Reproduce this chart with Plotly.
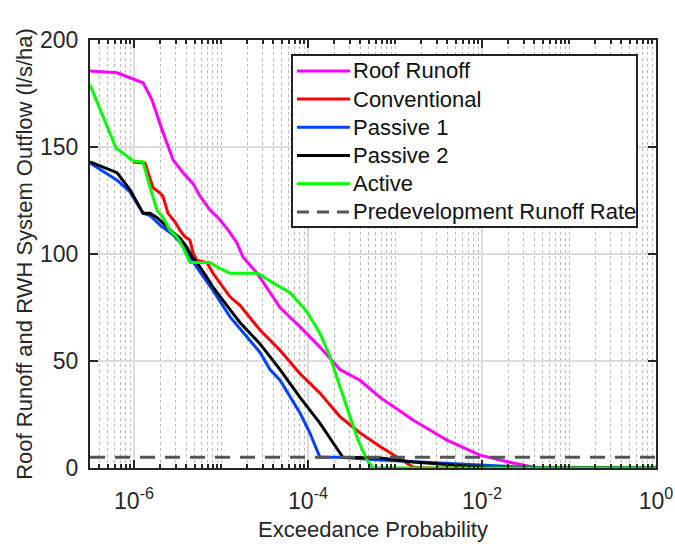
import plotly.graph_objects as go

# Exceedance probability (x) and flow (y, l/s/ha) for each series
roof_x = [3.12e-7, 6.38e-7, 1.27e-6, 1.61e-6, 2.10e-6, 2.81e-6, 3.66e-6, 4.76e-6, 5.74e-6, 7.48e-6,
          9.75e-6, 1.27e-5, 1.53e-5, 1.79e-5, 2.60e-5, 2.81e-5, 4.77e-5, 8.09e-5, 1.37e-4, 2.33e-4,
          3.96e-4, 6.73e-4, 1.61e-3, 3.96e-3, 9.49e-3, 2.27e-2, 3.85e-2, 5.30e-2, 1.0]
roof_y = [185.5, 184.7, 180, 172, 158, 144, 138, 133, 127, 120.5,
          116, 110, 105, 98.6, 91, 89, 75, 66, 56.5, 46,
          41, 33, 22.4, 13, 6, 2.3, 0.5, 0, 0]

conv_x = [9.74e-7, 1.34e-6, 1.65e-6, 1.99e-6, 2.15e-6, 2.46e-6, 2.96e-6, 3.38e-6, 3.86e-6, 4.40e-6,
          4.76e-6, 5.30e-6, 6.90e-6, 8.09e-6, 1.27e-5, 1.65e-5, 2.81e-5, 4.77e-5, 8.09e-5, 1.37e-4,
          2.33e-4, 3.96e-4, 6.73e-4, 8.77e-4, 1.61e-3, 1.94e-3, 1.0]
conv_y = [143, 142.5, 131, 128.5, 127, 119, 115, 111, 108, 106.5,
          100.5, 97, 96, 91, 80, 76, 64.5, 55, 44, 35,
          24, 16.4, 10, 7, 0.5, 0, 0]

pas1_x = [3.12e-7, 6.38e-7, 9.0e-7, 1.27e-6, 1.53e-6, 1.99e-6, 2.81e-6, 3.66e-6, 5.02e-6, 8.09e-6,
          1.27e-5, 1.65e-5, 2.81e-5, 3.66e-5, 4.77e-5, 8.09e-5, 1.05e-4, 1.37e-4, 2.33e-4, 6.73e-4,
          9.49e-3, 3.56e-2, 4.65e-2, 1.0]
pas1_y = [142.5, 134.5, 129, 119, 118, 113.5, 109, 104, 95, 83,
          70.6, 65, 54, 46, 41, 25.7, 16.4, 5, 5, 3.7,
          1.4, 0.5, 0, 0]

pas2_x = [3.12e-7, 6.38e-7, 9.0e-7, 1.27e-6, 1.53e-6, 1.84e-6, 2.15e-6, 2.81e-6, 3.38e-6, 4.07e-6,
          4.64e-6, 5.30e-6, 6.90e-6, 8.09e-6, 1.27e-5, 1.65e-5, 2.81e-5, 4.77e-5, 8.09e-5, 1.37e-4,
          2.33e-4, 2.52e-4, 6.73e-4, 1.61e-3, 9.49e-3, 1.24e-2, 1.0]
pas2_y = [143, 138, 130, 119, 119, 117, 114.5, 110, 107.5, 103,
          98.6, 96, 89, 84.5, 74, 68, 58, 46, 33, 21,
          7, 5, 4.7, 2.8, 0.5, 0, 0]

act_x = [3.12e-7, 6.21e-7, 9.74e-7, 1.27e-6, 1.53e-6, 1.84e-6, 2.15e-6, 2.60e-6, 3.12e-6, 3.66e-6,
         4.40e-6, 7.48e-6, 8.99e-6, 1.27e-5, 2.66e-5, 3.96e-5, 6.21e-5, 9.74e-5, 1.37e-4, 1.79e-4,
         2.33e-4, 3.04e-4, 3.76e-4, 4.77e-4, 5.58e-4, 1.0]
act_y = [179, 149.5, 143.5, 143, 131, 120.5, 117, 111, 108, 103,
         96, 96, 94, 91, 91, 86.5, 82, 73, 63, 52,
         38, 24, 13, 3.7, 0, 0]

predev_x = [3.12e-7, 1.0]
predev_y = [5, 5]

x_tickvals = [1e-6, 1e-4, 1e-2, 1]
x_ticktext = ["10<sup>-6</sup>", "10<sup>-4</sup>", "10<sup>-2</sup>", "10<sup>0</sup>"]
y_tickvals = [0, 50, 100, 150, 200]

series = [
    ("Roof Runoff", roof_x, roof_y, "#ff00ff", "solid"),
    ("Conventional", conv_x, conv_y, "#ff0000", "solid"),
    ("Passive 1", pas1_x, pas1_y, "#0044ff", "solid"),
    ("Passive 2", pas2_x, pas2_y, "#000000", "solid"),
    ("Active", act_x, act_y, "#00ff00", "solid"),
    ("Predevelopment Runoff Rate", predev_x, predev_y, "#555555", "15px,10px"),
]

fig = go.Figure()
for name, xs, ys, col, dash in series:
    fig.add_trace(go.Scatter(x=xs, y=ys, mode="lines", name=name, showlegend=False,
                             line=dict(color=col, width=3, dash=dash)))

axis_col = "#262626"
fam = "Liberation Sans, Arial, sans-serif"
tick_fnt = dict(family=fam, size=23, color=axis_col)
title_fnt = dict(family=fam, size=22, color=axis_col)

# --- legend box drawn in paper coordinates (MATLAB-style legend) ---
leg_x0, leg_x1, leg_y0, leg_y1 = 0.3569, 0.9664, 0.5631, 0.9650
leg_line_x0, leg_line_x1, leg_text_x = 0.3657, 0.4594, 0.4612
leg_row_top, leg_row_step = 0.9278, 0.0659

shapes = [dict(type="rect", xref="paper", yref="paper",
               x0=leg_x0, x1=leg_x1, y0=leg_y0, y1=leg_y1,
               line=dict(color="#222222", width=2), fillcolor="white", layer="above")]
annotations = []
for i, (name, xs, ys, col, dash) in enumerate(series):
    yy = leg_row_top - i * leg_row_step
    shapes.append(dict(type="line", xref="paper", yref="paper",
                       x0=leg_line_x0, x1=leg_line_x1, y0=yy, y1=yy,
                       line=dict(color=col, width=3,
                                 dash="12px,8px" if dash != "solid" else "solid"),
                       layer="above"))
    annotations.append(dict(text=name, xref="paper", yref="paper", x=leg_text_x, y=yy,
                            xanchor="left", yanchor="middle", showarrow=False,
                            font=dict(family=fam, size=22, color="#111111")))

fig.update_layout(
    width=675, height=549,
    margin=dict(l=90, r=19, t=40, b=81),
    paper_bgcolor="white", plot_bgcolor="white",
    font=title_fnt,
    showlegend=False,
    shapes=shapes,
    annotations=annotations,
)

fig.update_xaxes(
    type="log", range=[-6.506, 0], automargin=False,
    tickvals=x_tickvals, ticktext=x_ticktext,
    ticks="inside", ticklen=8, tickwidth=1.5, tickcolor=axis_col,
    ticklabelstandoff=11,
    showline=True, linecolor=axis_col, linewidth=2, mirror="ticks",
    showgrid=True, gridcolor="#dcdcdc", gridwidth=1.5,
    zeroline=False,
    title=dict(text="Exceedance Probability", standoff=9, font=title_fnt),
    tickfont=tick_fnt,
    minor=dict(dtick="D1", ticks="inside", ticklen=4, tickcolor=axis_col,
               showgrid=True, gridcolor="#bdbdbd", griddash="dot", gridwidth=1),
)
fig.update_yaxes(
    range=[0, 200], tickvals=y_tickvals, automargin=False,
    ticks="inside", ticklen=8, tickwidth=1.5, tickcolor=axis_col,
    ticklabelstandoff=5,
    showline=True, linecolor=axis_col, linewidth=2, mirror="ticks",
    showgrid=True, gridcolor="#dcdcdc", gridwidth=1.5,
    zeroline=False,
    title=dict(text="Roof Runoff and RWH System Outflow (l/s/ha)", standoff=1, font=title_fnt),
    tickfont=tick_fnt,
)

# remove the default page margin so the 675x549 figure fills the window exactly
fig.write_html("out.html", config={"displayModeBar": False},
               post_script="document.body.style.margin='0';document.body.style.overflow='hidden';")
